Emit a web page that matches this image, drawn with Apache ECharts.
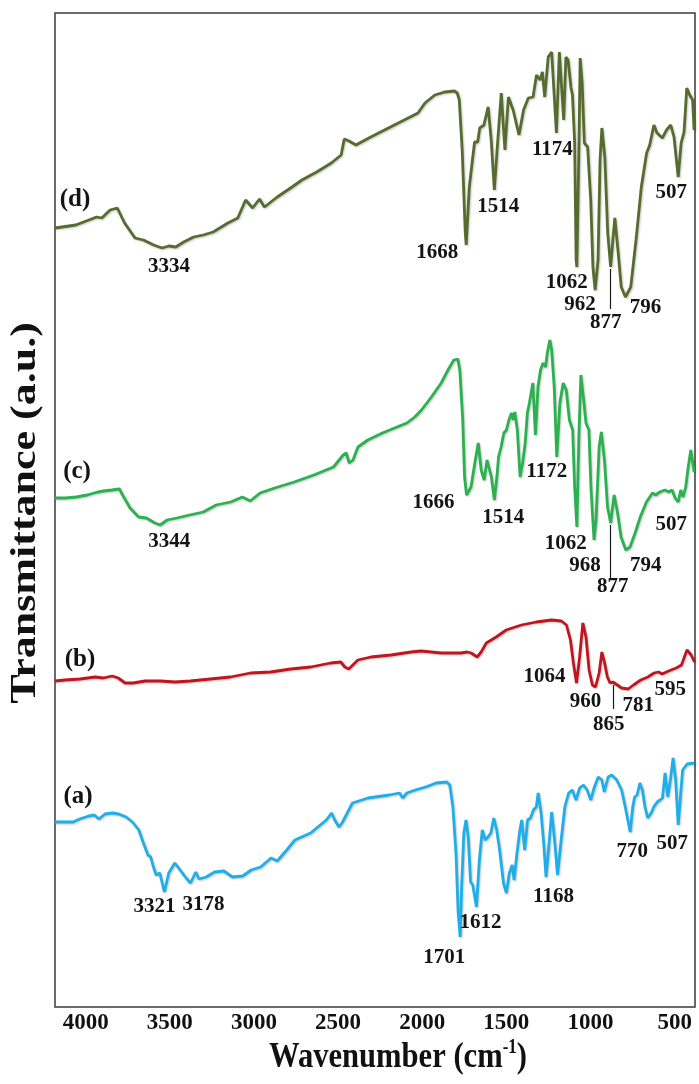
<!DOCTYPE html>
<html>
<head>
<meta charset="utf-8">
<script src="https://cdn.jsdelivr.net/npm/echarts@6/dist/echarts.min.js"></script>
<style>
  html, body { margin: 0; padding: 0; background: #ffffff; }
  #chart { width: 699px; height: 1084px; }
</style>
</head>
<body>
<div id="chart"></div>
<script>
// FTIR spectra: wavenumber (cm-1) against transmittance (a.u.), traces offset vertically.

const wavenumberTicks = [4000, 3500, 3000, 2500, 2000, 1500, 1000, 500];
const traceNames = ['(a)', '(b)', '(c)', '(d)'];

// [wavenumber, transmittance] pairs
const spectrumA = [
  [3920,18.5],[3870,18.5],[3820,18.5],[3785,18.8],[3735,19.1],[3705,19.2],[3680,18.8],[3646,19.3],[3606,19.4],[3571,19.3],[3531,19.0],[3496,18.5],[3461,17.7],[3436,16.4],[3411,15.2],[3396,15.0],[3381,14.0],[3366,13.2],[3346,13.4],[3321,11.5],
  [3297,13.4],[3264,14.4],[3235,13.7],[3202,12.9],[3178,12.4],
  [3149,13.5],[3132,12.8],[3092,13.0],[3046,13.5],[2995,13.6],[2949,13.0],[2892,13.1],[2846,13.7],[2794,14.0],[2737,14.9],[2703,14.6],[2651,15.7],[2606,16.7],[2520,17.4],[2434,18.7],[2405,19.4],[2388,18.7],[2365,18.0],[2348,18.4],[2331,19.0],[2291,20.4],[2206,20.9],[2090,21.2],[2033,21.4],[2016,20.9],[1993,21.4],[1947,21.7],[1890,22.0],[1833,22.4],[1775,22.5],[1758,22.2],[1741,20.0],[1724,15.4],[1712,9.4],[1701,7.0],
  [1693,12.0],[1681,17.4],[1669,18.7],[1657,17.0],[1644,12.5],[1632,12.2],[1624,12.4],[1612,10.0],
  [1596,14.7],[1580,17.7],[1564,16.7],[1549,17.0],[1533,17.4],[1517,18.9],[1501,17.7],[1485,15.7],[1464,12.4],[1448,11.4],[1432,13.4],[1416,14.2],[1406,12.7],[1390,15.4],[1374,17.7],[1364,18.7],[1348,15.7],[1332,18.7],[1316,18.9],[1300,19.7],[1284,20.0],[1274,21.4],[1258,19.4],[1242,16.0],[1231,13.0],[1216,16.0],[1200,19.5],[1184,16.7],[1168,13.2],
  [1148,16.7],[1128,20.0],[1107,21.4],[1087,21.7],[1067,20.7],[1047,21.9],[1026,22.2],[1006,21.7],[986,20.7],[966,22.0],[945,23.0],[925,22.7],[912,21.5],[891,23.0],[871,23.2],[844,22.7],[817,21.7],[797,20.0],[770,17.5],
  [756,20.0],[746,21.0],[732,21.2],[717,22.4],[703,21.7],[689,20.0],[674,18.9],[655,19.4],[641,20.0],[622,20.5],[607,20.7],[593,20.9],[579,23.4],[564,21.0],[550,22.7],[535,24.9],[521,22.7],[507,18.2],
  [483,23.7],[458,24.3],[418,24.4]
];

const spectrumB = [
  [3920,32.6],[3865,32.7],[3783,32.8],[3700,33.0],[3656,32.9],[3607,33.1],[3574,32.9],[3536,32.4],[3492,32.4],[3426,32.6],[3343,32.6],[3261,32.5],[3179,32.6],[3069,32.8],[2959,33.0],[2849,33.4],[2739,33.5],[2629,33.8],[2520,34.0],[2410,34.4],[2355,34.5],[2333,34.0],[2311,33.8],[2261,34.7],[2190,35.0],[2080,35.2],[1970,35.5],[1915,35.6],[1860,35.5],[1806,35.4],[1751,35.4],[1696,35.4],[1663,35.5],[1641,35.4],[1608,35.0],[1586,35.5],[1558,36.4],[1504,37.0],[1449,37.7],[1366,38.2],[1284,38.5],[1201,38.7],[1147,38.6],[1119,38.2],[1097,36.7],[1081,34.4],[1064,32.4],
  [1047,35.0],[1029,38.4],[1012,37.0],[995,33.7],[977,32.2],[960,32.0],
  [940,33.4],[925,35.5],[910,34.4],[895,33.0],[880,32.4],[865,32.5],
  [841,32.2],[817,31.9],[781,31.8],
  [752,32.2],[712,32.7],[673,33.0],[639,33.4],[615,33.5],[595,33.3],
  [560,33.6],[518,33.9],[489,34.2],[459,35.7],[436,35.2],[418,34.5]
];

const spectrumC = [
  [3920,50.9],[3861,50.9],[3802,51.0],[3744,51.2],[3685,51.5],[3655,51.6],[3608,51.7],[3567,51.8],[3550,51.2],[3509,49.9],[3462,49.0],[3420,48.9],[3373,48.4],[3344,48.2],
  [3306,48.7],[3253,48.9],[3183,49.2],[3108,49.5],[3038,50.2],[2958,50.5],[2894,51.0],[2851,50.6],[2797,51.4],[2717,51.9],[2610,52.5],[2502,53.2],[2395,54.0],[2342,55.2],[2325,55.4],[2309,54.4],[2288,54.7],[2261,56.0],[2207,56.7],[2127,57.4],[2047,58.0],[1993,58.4],[1950,59.0],[1913,59.7],[1859,61.0],[1805,62.4],[1768,63.7],[1736,64.7],[1714,64.8],[1703,63.7],[1687,58.7],[1677,53.0],[1666,51.2],
  [1642,52.0],[1618,54.7],[1602,56.4],[1586,53.7],[1570,52.7],[1554,54.7],[1530,53.0],[1514,50.7],
  [1500,53.0],[1491,55.0],[1477,56.0],[1462,57.4],[1448,57.7],[1434,58.7],[1420,59.4],[1411,58.7],[1402,59.5],[1388,57.7],[1373,53.0],[1359,54.4],[1345,56.4],[1333,59.4],[1322,60.4],[1303,62.4],[1289,57.2],[1275,62.0],[1261,63.7],[1247,64.4],[1233,64.0],[1224,65.4],[1210,66.7],[1200,65.7],[1186,62.0],[1172,55.0],
  [1155,60.4],[1137,62.4],[1120,61.7],[1103,58.7],[1085,57.7],[1074,52.0],[1062,48.0],
  [1051,57.0],[1040,63.2],[1023,60.4],[1012,58.4],[996,57.7],[985,52.0],[968,46.7],
  [957,48.7],[940,56.0],[928,57.5],[911,54.7],[894,50.0],[877,48.4],
  [858,51.2],[839,49.4],[820,47.0],[794,45.7],
  [771,46.0],[743,47.4],[715,49.0],[681,50.5],[648,51.4],[631,51.2],[608,51.5],[580,51.7],[558,51.5],[541,51.7],[524,50.9],[507,50.5],
  [493,51.7],[480,51.0],[466,52.0],[452,54.0],[438,55.7],[420,53.5]
];

const spectrumD = [
  [3920,77.9],[3806,78.2],[3692,79.0],[3664,78.9],[3618,79.7],[3579,79.9],[3539,78.4],[3482,76.9],[3436,76.7],[3380,76.2],[3334,75.9],
  [3296,76.1],[3259,76.0],[3215,76.5],[3161,77.0],[3108,77.2],[3054,77.5],[2973,78.4],[2919,78.9],[2876,80.7],[2838,79.9],[2800,80.8],[2773,80.0],[2703,81.0],[2622,82.0],[2568,82.7],[2487,83.5],[2407,84.4],[2353,85.2],[2336,86.8],[2310,86.6],[2272,86.2],[2191,87.0],[2083,88.0],[1975,89.0],[1932,89.4],[1894,90.4],[1840,91.2],[1786,91.5],[1733,91.6],[1717,91.4],[1706,90.7],[1690,85.7],[1673,77.4],[1668,76.2],
  [1651,82.0],[1634,84.7],[1622,86.5],[1605,86.5],[1594,87.9],[1571,88.2],[1548,90.0],[1531,86.7],[1514,81.7],
  [1495,86.7],[1476,91.4],[1456,85.7],[1437,91.0],[1411,89.7],[1379,87.2],[1354,89.7],[1328,90.9],[1302,91.0],[1283,93.2],[1264,92.7],[1251,93.5],[1238,91.0],[1219,95.0],[1200,95.5],[1174,87.4],
  [1158,95.5],[1150,95.5],[1134,88.7],[1122,95.0],[1110,94.7],[1094,91.9],[1086,91.2],[1074,86.4],[1066,74.7],[1062,74.0],
  [1050,86.7],[1044,94.9],[1033,92.4],[1021,86.4],[1003,86.0],[986,80.7],[974,74.0],[962,71.7],
  [946,74.7],[935,84.7],[925,87.9],[909,85.0],[893,77.4],[877,74.0],
  [865,76.7],[854,78.9],[837,75.7],[819,72.0],[796,71.0],
  [767,72.0],[738,76.7],[709,82.0],[680,85.4],[663,86.2],[640,88.2],[623,87.4],[594,86.9],[571,87.7],[548,88.2],[530,87.0],[507,83.0],
  [491,86.4],[475,87.5],[460,91.9],[444,91.2],[428,90.7],[420,87.7]
];

// Band positions marked on each trace (cm-1)
const peaksA = [3321, 3178, 1701, 1612, 1168, 770, 507];
const peaksB = [1064, 960, 865, 781, 595];
const peaksC = [3344, 1666, 1514, 1172, 1062, 968, 877, 794, 507];
const peaksD = [3334, 1668, 1514, 1174, 1062, 962, 877, 796, 507];

// ---- presentation ----
const FONT = '"Liberation Serif", "Times New Roman", serif';
const colors = { a: '#1eaeea', b: '#c0141e', c: '#2bb150', d: '#566b2e' };

// label placement relative to the band minimum, in pixels [dx, dy]
const labelOffsets = {
  a: { 3321: [-10, 15], 3178: [13, 22], 1701: [-16, 21], 1612: [4, 16], 1168: [-4, 22], 770: [2, 20], 507: [-6, 19] },
  b: { 1064: [-32, -6], 960: [-10, 15], 865: [-4, 43], 781: [10, 17], 595: [8, 16] },
  c: { 3344: [9, 17], 1666: [-33, 8], 1514: [9, 18], 1172: [-10, 15], 1062: [-11, 17], 968: [-9, 26], 877: [2, 64], 794: [20, 16], 507: [-7, 23] },
  d: { 3334: [7, 19], 1668: [-29, 8], 1514: [4, 17], 1174: [-4, 17], 1062: [-10, 16], 962: [-15, 15], 877: [-5, 56], 796: [20, 11], 507: [-7, 16] }
};
// short pointer lines below closely spaced bands: [band, gap, length] in transmittance units
const pointers = { b: [865, 0.3, 2.4], c: [877, 0.2, 5.4], d: [877, 0.2, 4.0] };

function spectrumSeries(key, name, data, peaks) {
  const valueAt = w => data.find(p => p[0] === w)[1];
  const series = {
    name: name,
    type: 'line',
    xAxisIndex: 0,
    yAxisIndex: 0,
    data: data,
    showSymbol: false,
    symbol: 'none',
    z: 3,
    lineStyle: {
      color: colors[key], width: 2.8,
      shadowColor: 'rgba(0,0,0,0.22)', shadowBlur: 2, shadowOffsetX: 1, shadowOffsetY: 1
    },
    itemStyle: { color: colors[key] },
    markPoint: {
      symbol: 'circle',
      symbolSize: 0,
      silent: true,
      animation: false,
      label: {
        show: true, position: 'inside', formatter: '{b}',
        color: '#141414', fontFamily: FONT, fontWeight: 'bold', fontSize: 21
      },
      data: peaks.map(w => ({
        name: String(w),
        coord: [w, valueAt(w)],
        label: { offset: labelOffsets[key][w] }
      }))
    }
  };
  if (pointers[key]) {
    const [w, gap, len] = pointers[key];
    const v = valueAt(w);
    series.markLine = {
      symbol: ['none', 'none'],
      silent: true,
      animation: false,
      label: { show: false },
      lineStyle: { color: '#1a1a1a', width: 1.2, type: 'solid' },
      data: [[{ coord: [w, v - gap] }, { coord: [w, v - gap - len] }]]
    };
  }
  return series;
}

const chart = echarts.init(document.getElementById('chart'), null, { renderer: 'canvas' });

chart.setOption({
  animation: false,
  backgroundColor: '#ffffff',
  grid: {
    left: 55, right: 4, top: 13, bottom: 77,
    show: true, borderColor: '#3a3a3a', borderWidth: 1.5, backgroundColor: 'transparent'
  },
  xAxis: [
    {
      // scale the spectra are drawn on
      type: 'value', inverse: true, min: 415, max: 3920,
      position: 'top', show: false
    },
    {
      // tick labels along the bottom edge
      type: 'value', inverse: true, min: 379, max: 4182,
      position: 'bottom',
      axisLine: { show: false },
      axisTick: { show: false },
      splitLine: { show: false },
      axisLabel: {
        customValues: wavenumberTicks,
        formatter: value => String(value),
        margin: 5,
        color: '#111111', fontFamily: FONT, fontWeight: 'bold', fontSize: 23
      }
    }
  ],
  yAxis: { type: 'value', min: 0, max: 99.4, show: false },
  series: [
    spectrumSeries('a', traceNames[0], spectrumA, peaksA),
    spectrumSeries('b', traceNames[1], spectrumB, peaksB),
    spectrumSeries('c', traceNames[2], spectrumC, peaksC),
    spectrumSeries('d', traceNames[3], spectrumD, peaksD)
  ],
  graphic: [
    {
      type: 'text', x: 26, y: 513, rotation: Math.PI / 2, scaleY: 0.8,
      style: {
        text: 'Transmittance (a.u.)', fill: '#111111',
        font: 'bold 44px ' + FONT,
        textAlign: 'center', textVerticalAlign: 'middle', align: 'center', verticalAlign: 'middle'
      }
    },
    {
      type: 'text', x: 398, y: 1058, scaleX: 0.85,
      style: {
        text: '{m|Wavenumber (cm}{s|-1}{m|)}', fill: '#111111',
        textAlign: 'center', textVerticalAlign: 'middle', align: 'center', verticalAlign: 'middle',
        rich: {
          m: { fontFamily: FONT, fontWeight: 'bold', fontSize: 36, lineHeight: 40, fill: '#111111' },
          s: { fontFamily: FONT, fontWeight: 'bold', fontSize: 20, lineHeight: 40, verticalAlign: 'top', fill: '#111111' }
        }
      }
    },
    { type: 'text', x: 78, y: 797, style: { text: traceNames[0], fill: '#141414', font: 'bold 25px ' + FONT, textAlign: 'center', textVerticalAlign: 'middle', align: 'center', verticalAlign: 'middle' } },
    { type: 'text', x: 80, y: 660, style: { text: traceNames[1], fill: '#141414', font: 'bold 25px ' + FONT, textAlign: 'center', textVerticalAlign: 'middle', align: 'center', verticalAlign: 'middle' } },
    { type: 'text', x: 77, y: 472, style: { text: traceNames[2], fill: '#141414', font: 'bold 25px ' + FONT, textAlign: 'center', textVerticalAlign: 'middle', align: 'center', verticalAlign: 'middle' } },
    { type: 'text', x: 75, y: 200, style: { text: traceNames[3], fill: '#141414', font: 'bold 25px ' + FONT, textAlign: 'center', textVerticalAlign: 'middle', align: 'center', verticalAlign: 'middle' } }
  ]
});
</script>
</body>
</html>
